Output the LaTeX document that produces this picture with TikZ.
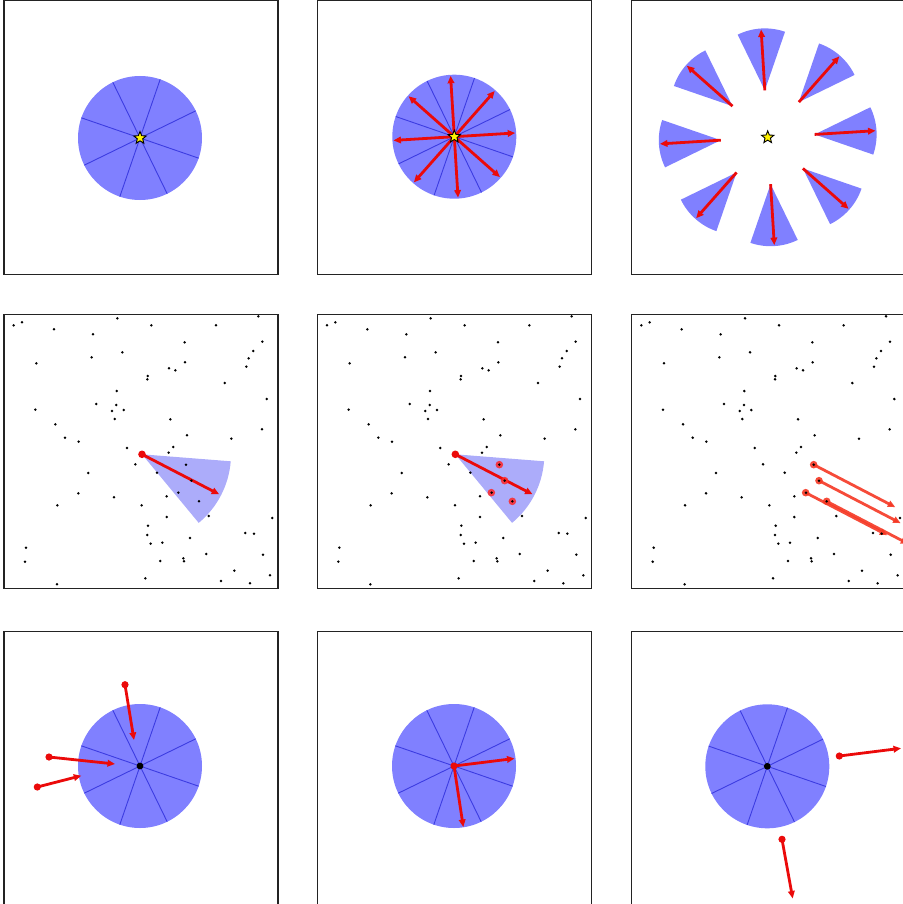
\documentclass[tikz,border=0pt]{standalone}
\usetikzlibrary{arrows.meta,shapes.geometric}
\definecolor{diskblue}{RGB}{128,128,255}
\definecolor{lineblue}{RGB}{60,60,225}
\definecolor{wedgeblue}{RGB}{172,172,250}
\definecolor{framegray}{RGB}{35,35,35}
\definecolor{arrred}{RGB}{235,10,10}
\definecolor{orred}{RGB}{245,55,35}
\tikzset{
 frame/.style={draw=framegray, line width=1.5pt},
 disk/.style={fill=diskblue},
 divline/.style={draw=lineblue, line width=0.9pt},
 redarrow/.style={draw=arrred, line width=2.8pt, -{Triangle[length=7.5pt,width=6.5pt]}},
 orarrow/.style={draw=orred, line width=2.8pt, -{Triangle[length=7.5pt,width=6.5pt]}},
 starnode/.style={star, star points=5, star point ratio=2.3, minimum size=13pt, inner sep=0pt, fill=yellow, draw=black, line width=0.9pt},
}
\newcommand\scatterpts{41/76,66/67,352/55,775/49,162/88,454/76,648/76,279/103,554/127,787/125,367/157,760/153,275/172,746/175,109/190,555/187,739/200,507/205,526/211,443/228,442/238,674/249,350/273,800/297,289/312,349/315,336/333,371/330,106/329,344/357,511/358,166/373,786/388,561/406,195/413,694/416,236/425,520/441,381/444,506/458,406/493,558/494,265/519,471/518,574/542,235/580,535/578,342/592,500/589,597/604,172/616,425/616,626/648,817/654,500/651,444/677,442/705,736/699,762/701,570/714,452/731,487/728,78/743,619/762,789/764,75/785,481/783,550/775,552/784,703/812,810/826,436/835,663/843,750/850,171/853}
\begin{document}
\begin{tikzpicture}[x=1pt,y=-1pt]
\useasboundingbox (0,0) rectangle (902,904);
% ---------- row 1 ----------
\coordinate (c1) at (140,138);
\fill[disk] (c1) circle (62);
\foreach \k in {0,...,7} \draw[divline] (c1) -- ++({-26-45*\k}:62);
\node[starnode] (s1) at (c1) {};

\coordinate (c2) at (454.3,136.7);
\fill[disk] (c2) circle (62);
\foreach \k in {0,...,7} \draw[divline] (c2) -- ++({-26-45*\k}:62);
\foreach \k in {0,...,7} {
  \coordinate (t2\k) at ([shift={({-3.5-45*\k}:61)}]c2);
  \draw[redarrow] (c2) -- (t2\k);
}
\node[starnode] (s2) at (c2) {};

\coordinate (c3) at (767.7,137.3);
\foreach \k in {0,...,7} {
  \pgfmathsetmacro\a{-3.5-45*\k}
  \coordinate (w\k) at ([shift={(\a:47)}]c3);
  \coordinate (t3\k) at ([shift={(\a:61)}]w\k);
  \fill[disk] (w\k) -- ++({\a-22.5}:62) arc[start angle={\a-22.5}, end angle={\a+22.5}, radius=62] -- cycle;
  \draw[redarrow] (w\k) -- (t3\k);
}
\node[starnode] (s3) at (c3) {};

% ---------- row 2 ----------
% panel 4
\coordinate (ap4) at (142,454.3);
\coordinate (tp4) at ([shift={(27.4:87)}]ap4);
\fill[wedgeblue] (ap4) -- ++(4.5:89) arc[start angle=4.5, end angle=50.4, radius=89] -- cycle;
\draw[redarrow] (ap4) -- (tp4);
\fill[arrred] (ap4) circle (3.8);
\foreach \px/\py in \scatterpts \fill ({\px/3},{\py/3+300}) circle (1.4);

% panel 5
\coordinate (ap5) at (455.33,454.3);
\coordinate (tp5) at ([shift={(27.4:87)}]ap5);
\fill[wedgeblue] (ap5) -- ++(4.5:89) arc[start angle=4.5, end angle=50.4, radius=89] -- cycle;
\draw[redarrow] (ap5) -- (tp5);
\fill[arrred] (ap5) circle (3.8);
\foreach \px/\py in {558/494,574/542,534/578,597/604}
  \fill[red!85, opacity=0.85] ({\px/3+313.33},{\py/3+300}) circle (3.8);
\foreach \px/\py in \scatterpts \fill ({\px/3+313.33},{\py/3+300}) circle (1.4);

% panel 6
\foreach \px/\py [count=\i] in {558/494,574/542,534/578,597/604} {
  \coordinate (h\i) at ({\px/3+627.67},{\py/3+300});
  \coordinate (ht\i) at ([shift={(27.5:92)}]h\i);
  \draw[orarrow, opacity=0.9] (h\i) -- (ht\i);
  \fill[orred, opacity=0.9] (h\i) circle (3.8);
}
\foreach \px/\py in \scatterpts \fill ({\px/3+627.67},{\py/3+300}) circle (1.4);

% ---------- row 3 ----------
\coordinate (c7) at (140,766);
\fill[disk] (c7) circle (62);
\foreach \k in {0,...,7} \draw[divline] (c7) -- ++({-26-45*\k}:62);
\fill[black] (c7) circle (3.4);
\coordinate (a7s) at (125,684.7); \coordinate (a7e) at (134,740);
\coordinate (b7s) at (49,757);    \coordinate (b7e) at (115,764);
\coordinate (d7s) at (37.3,787);  \coordinate (d7e) at (81.3,775.7);
\foreach \p in {a7,b7,d7} {
  \draw[redarrow] (\p s) -- (\p e);
  \fill[arrred] (\p s) circle (3.6);
}

\coordinate (c8) at (454,766);
\fill[disk] (c8) circle (62);
\foreach \k in {0,...,7} \draw[divline] (c8) -- ++({-26-45*\k}:62);
\coordinate (a8e) at (514.5,758.5);
\coordinate (b8e) at (463.3,827);
\draw[redarrow] (c8) -- (a8e);
\draw[redarrow] (c8) -- (b8e);
\fill[arrred] (c8) circle (3.6);

\coordinate (c9) at (767.3,766.3);
\fill[disk] (c9) circle (62);
\foreach \k in {0,...,7} \draw[divline] (c9) -- ++({-26-45*\k}:62);
\fill[black] (c9) circle (3.4);
\coordinate (a9s) at (839.3,756);  \coordinate (a9e) at (901,748.3);
\coordinate (b9s) at (782,839.3);  \coordinate (b9e) at (792.7,898.5);
\foreach \p in {a9,b9} {
  \draw[redarrow] (\p s) -- (\p e);
  \fill[arrred] (\p s) circle (3.6);
}

% ---------- frames ----------
\foreach \cx in {4,317.5,631.7} \foreach \cy in {0.7,314.7,631.3}
  \draw[frame] (\cx,\cy) rectangle ++(274,273.6);
\end{tikzpicture}
\end{document}
